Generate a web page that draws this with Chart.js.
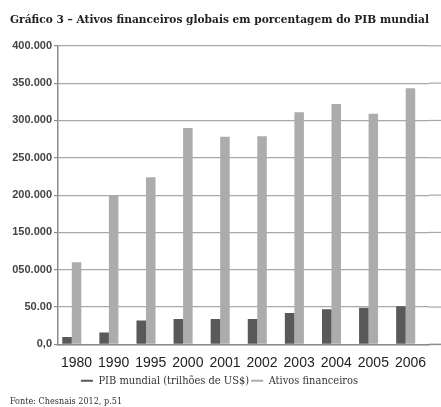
<!DOCTYPE html>
<html><head><meta charset="utf-8">
<script src="https://cdn.jsdelivr.net/npm/chart.js@4"></script>
<style>html,body{margin:0;padding:0;background:#fff}#wrap{width:441px;height:407px;position:relative}</style>
</head><body><div id="wrap"><canvas id="c"></canvas></div>
<script>
const categories = ["1980","1990","1995","2000","2001","2002","2003","2004","2005","2006"];
const pibMundial = [10,16,32,34,34,34,42,47,49,51];
const ativosFinanceiros = [110,199,224,290,278,279,311,322,309,343];
const yTickLabels = ["0,0","50.00","050.000","150.000","200.000","250.000","300.000","350.000","400.000"];
const titleText = "Gráfico 3 – Ativos financeiros globais em porcentagem do PIB mundial";
const sourceText = "Fonte: Chesnais 2012, p.51";
const seriesNames = ["PIB mundial (trilhões de US$)", "Ativos financeiros"];

const extendGrid = {
  id: 'extendGrid',
  beforeDatasetsDraw(chart) {
    const {ctx, chartArea, scales: {y}} = chart;
    ctx.save();
    y.ticks.forEach(t => {
      const py = y.getPixelForValue(t.value);
      ctx.strokeStyle = t.value === 0 ? '#8a8a8a' : '#a8a8a8';
      ctx.lineWidth = t.value === 0 ? 1.5 : 1.2;
      ctx.beginPath();
      ctx.moveTo(chartArea.right, py);
      ctx.lineTo(chart.width, py);
      ctx.stroke();
    });
    ctx.restore();
  }
};

const serifCond = "'DejaVu Serif Condensed', 'DejaVu Serif', serif";

new Chart(document.getElementById('c'), {
  type: 'bar',
  data: {
    labels: categories,
    datasets: [
      {label: seriesNames[0], data: pibMundial, backgroundColor: '#595959', borderWidth: 0, categoryPercentage: 0.77, barPercentage: 1.0},
      {label: seriesNames[1], data: ativosFinanceiros, backgroundColor: '#abacae', borderWidth: 0, categoryPercentage: 0.77, barPercentage: 1.0},
      {label: '', data: [], backgroundColor: 'rgba(0,0,0,0)', borderWidth: 0, categoryPercentage: 0.77, barPercentage: 1.0}
    ]
  },
  options: {
    responsive: true,
    maintainAspectRatio: false,
    animation: false,
    layout: {padding: {left: 10, right: 12, top: 0, bottom: 0}},
    plugins: {
      tooltip: {enabled: false},
      title: {
        display: true, text: titleText, align: 'start', color: '#222',
        font: {family: 'DejaVu Serif', weight: 'bold', size: 11.5},
        padding: {top: 13, bottom: 19}
      },
      subtitle: {
        display: true, text: sourceText, position: 'bottom', align: 'start', color: '#333',
        font: {family: serifCond, size: 9},
        padding: {top: 0, bottom: 0}
      },
      legend: {
        position: 'bottom',
        labels: {
          usePointStyle: true, pointStyle: 'line', pointStyleWidth: 12,
          color: '#333', padding: 2, boxHeight: 10,
          font: {family: serifCond, size: 11},
          filter: item => item.text !== '',
          generateLabels: chart => Chart.defaults.plugins.legend.labels.generateLabels(chart).map(l => {
            l.strokeStyle = l.fillStyle; l.lineWidth = 2; return l;
          })
        }
      }
    },
    scales: {
      x: {
        grid: {display: false},
        border: {display: true, color: '#8a8a8a', width: 1.5},
        ticks: {color: '#222', font: {family: 'Liberation Sans', size: 14}, padding: 2, maxRotation: 0, autoSkip: false}
      },
      y: {
        min: 0, max: 400,
        afterFit: s => { s.width = 48; },
        grid: {color: '#a8a8a8', lineWidth: 1.2, tickLength: 4, drawTicks: true, tickColor: '#8a8a8a'},
        border: {display: true, color: '#8a8a8a', width: 1.5},
        ticks: {stepSize: 50, color: '#444', padding: 2,
          font: {family: 'Liberation Sans', size: 11, weight: 'bold'},
          callback: (v, i) => yTickLabels[i]}
      }
    }
  },
  plugins: [extendGrid]
});
</script>
</body></html>
